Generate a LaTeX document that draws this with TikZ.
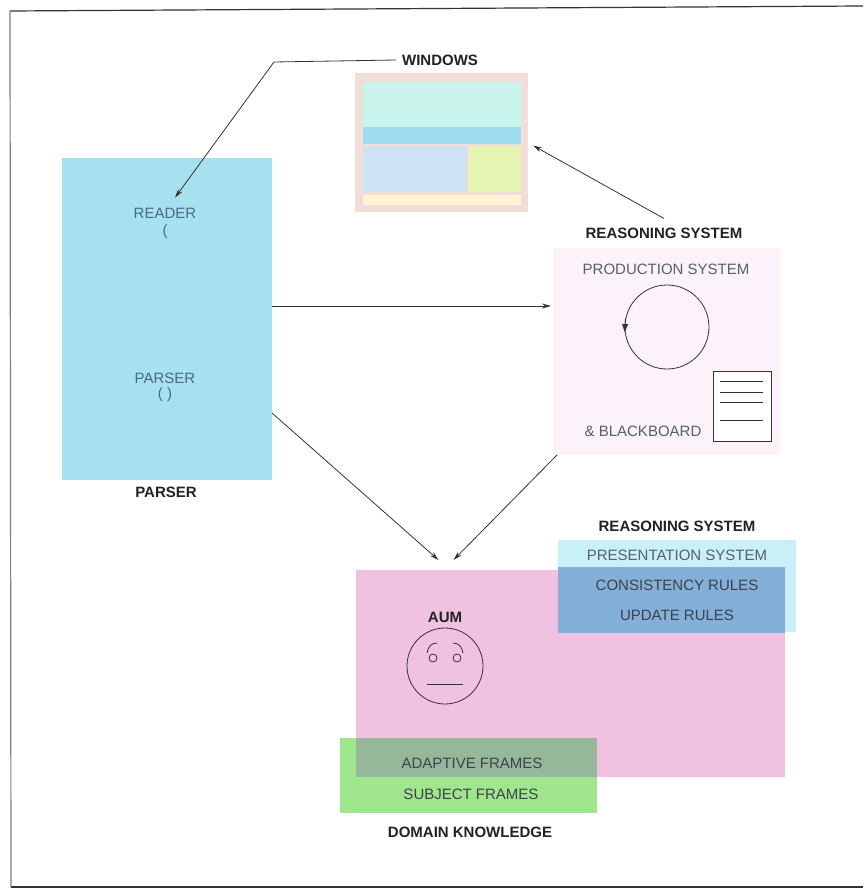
\documentclass[tikz,border=0pt]{standalone}
\usepackage{fontspec}
\setmainfont{Liberation Sans}
\usetikzlibrary{shapes,arrows.meta,positioning}
\definecolor{parsercol}{HTML}{A6E1F0}
\definecolor{reasoncol}{HTML}{FBF2FA}
\definecolor{aumcol}{HTML}{F1C1E2}
\definecolor{prescol}{HTML}{C8F0F6}
\definecolor{rulecol}{HTML}{83AFD9}
\definecolor{domcol}{HTML}{A0E68E}
\definecolor{framecol}{HTML}{95B89B}
\definecolor{wincol}{HTML}{F2DED8}
\definecolor{textdark}{HTML}{222222}
\definecolor{textgray}{HTML}{56606A}
\definecolor{textblue}{HTML}{4A6A7C}
\definecolor{linecol}{HTML}{333333}
\tikzstyle{box} = [rectangle, inner sep = 0pt, outer sep = 0pt]
\tikzstyle{lnode} = [inner sep = 0pt, text = textdark, font = \fontsize{15}{18}\selectfont\bfseries]
\tikzstyle{tnode} = [inner sep = 0pt, text = textgray, font = \fontsize{15}{18}\selectfont]
\tikzstyle{line} = [draw, line width = 0.8pt, color = linecol]
\tikzstyle{arrow} = [line, -{Stealth[length = 9pt, width = 5pt]}]

\begin{document}
\begin{tikzpicture}[x=1pt, y=-1pt]
	\useasboundingbox (0,0) rectangle (863,890);
	\path [line, line width = 1.2pt] (863,6) -- (10,11);
	\path [line, line width = 1.2pt, color = gray] (10,11) -- (11,887);
	\path [line, line width = 1.2pt] (11,887) -- (863,887);

	% parser
	\node [box, fill = parsercol, minimum width = 210pt, minimum height = 322pt] (parser) at (167,319) {};
	\node [tnode, text = textblue] (reader) at (165,213) {READER};
	\node [tnode, text = textblue] (readerp) at (165,232) {(};
	\node [tnode, text = textblue] (parse) at (165,378) {PARSER};
	\node [tnode, text = textblue] (parsep) at (165,395) {( )};
	\node [lnode] (parserlab) at (166,492) {PARSER};

	% windows
	\node [box, fill = wincol, minimum width = 173pt, minimum height = 139pt] (win) at (441.5,142.5) {};
	\fill [color = {rgb,255:red,200;green,244;blue,236}] (363,82) rectangle (521,127);
	\fill [color = {rgb,255:red,158;green,222;blue,240}] (363,127) rectangle (521,144);
	\fill [color = {rgb,255:red,205;green,227;blue,245}] (363,146) rectangle (467,192);
	\fill [color = {rgb,255:red,228;green,245;blue,178}] (469,146) rectangle (521,192);
	\fill [color = {rgb,255:red,255;green,245;blue,210}] (363,195) rectangle (521,205);
	\node [lnode] (winlab) at (440,60) {WINDOWS};
	\coordinate (bend) at (274,62);

	% reasoning system
	\node [lnode] (reasonlab) at (664,233) {REASONING SYSTEM};
	\node [box, fill = reasoncol, minimum width = 227pt, minimum height = 207pt] (reason) at (666.5,351.5) {};
	\node [tnode] (prod) at (666,269) {PRODUCTION SYSTEM};
	\node [circle, line, minimum size = 84pt, inner sep = 0pt] (cycle) at (667,327) {};
	\draw [arrow, -{Triangle[length = 8pt, width = 6pt]}] (cycle.168) -- ([yshift = -5pt]cycle.west);
	\node [box, line, fill = white, minimum width = 58pt, minimum height = 70pt] (board) at (742,406) {};
	\foreach \y in {381, 392, 402, 420}
		\path [line] (720,\y) -- (763,\y);
	\node [tnode] (black) at (643,431) {\& BLACKBOARD};

	% aum
	\node [box, fill = aumcol, minimum width = 429pt, minimum height = 207pt] (aum) at (570.5,673.5) {};
	\node [box, fill = prescol, minimum width = 238pt, minimum height = 92pt] (pres) at (677,586) {};
	\node [box, fill = rulecol, minimum width = 227pt, minimum height = 66pt] (rules) at (671.5,600) {};
	\node [lnode] (reasonlab2) at (677,526) {REASONING SYSTEM};
	\node [tnode] (presys) at (677,555) {PRESENTATION SYSTEM};
	\node [tnode, text = textgray!70!black] (consist) at (677,585) {CONSISTENCY RULES};
	\node [tnode, text = textgray!70!black] (update) at (677,615) {UPDATE RULES};

	\node [lnode] (aumlab) at (445,617) {AUM};
	\node [circle, line, minimum size = 76pt, inner sep = 0pt] (face) at (445,666) {};
	\path [line] (433,658) circle (4);
	\path [line] (457,658) circle (4);
	\path [line] (427,653) .. controls (428,647) and (431,643) .. (437,643);
	\path [line] (453,643) .. controls (459,643) and (462,647) .. (463,653);
	\path [line] (427,684) -- (463,684);

	% domain knowledge
	\node [box, fill = domcol, minimum width = 257pt, minimum height = 75pt] (domain) at (468.5,775.5) {};
	\node [box, fill = framecol, minimum width = 241pt, minimum height = 39pt] (frames) at (476.5,757.5) {};
	\node [tnode, text = textgray!70!black] (adapt) at (472,763) {ADAPTIVE FRAMES};
	\node [tnode, text = textgray!70!black] (subject) at (471,794) {SUBJECT FRAMES};
	\node [lnode] (domainlab) at (470,832) {DOMAIN KNOWLEDGE};

	% connectors
	\path [line] ([xshift = -6pt]winlab.west) -- (bend);
	\draw [arrow] (bend) -- ([xshift = 10pt, yshift = 10pt]reader.north);
	\draw [arrow] ([yshift = 9pt]reasonlab.north) -- ([xshift = 5pt, yshift = -3pt]win.east);
	\draw [arrow, shorten > = 2pt] ([yshift = 13pt]parser.east) -- ([yshift = 13pt]parser.east -| reason.west);
	\draw [arrow] ([yshift = -94pt]parser.east) -- ([xshift = -132pt, yshift = 10pt]aum.north);
	\draw [arrow] ([xshift = 4pt]reason.south west) -- ([xshift = -117pt, yshift = 10pt]aum.north);
\end{tikzpicture}
\end{document}
